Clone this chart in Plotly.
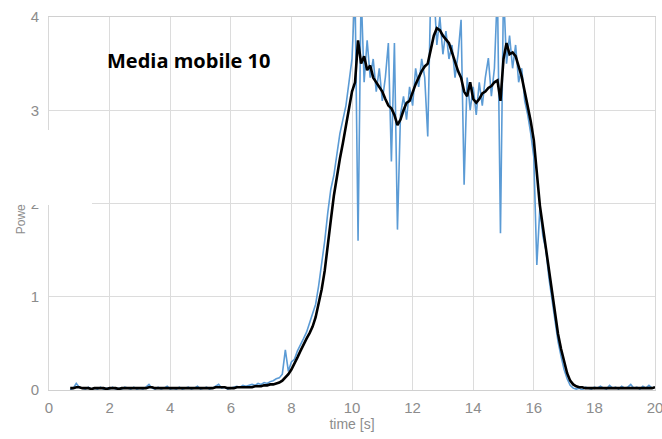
import plotly.graph_objects as go

# Sampled power (blue, raw) from t = 0.7 s to 20.0 s, every 0.1 s
power_raw = [
    0.00, 0.02, 0.07, 0.03, 0.02, 0.01, 0.03, 0.01, 0.02, 0.01,   # 0.7 - 1.6
    0.03, 0.01, 0.02, 0.01, 0.03, 0.01, 0.02, 0.01, 0.03, 0.02,   # 1.7 - 2.6
    0.01, 0.03, 0.01, 0.02, 0.01, 0.03, 0.06, 0.02, 0.01, 0.03,   # 2.7 - 3.6
    0.01, 0.02, 0.04, 0.01, 0.02, 0.01, 0.03, 0.01, 0.02, 0.03,   # 3.7 - 4.6
    0.01, 0.02, 0.04, 0.01, 0.02, 0.03, 0.01, 0.02, 0.04, 0.06,   # 4.7 - 5.6
    0.02, 0.03, 0.01, 0.02, 0.03, 0.04, 0.03, 0.05, 0.04, 0.05,   # 5.7 - 6.6
    0.06, 0.05, 0.07, 0.06, 0.08, 0.07, 0.09, 0.10, 0.12, 0.13,   # 6.7 - 7.6
    0.17, 0.43, 0.20, 0.30, 0.33, 0.42, 0.48, 0.55, 0.62, 0.72,   # 7.7 - 8.6
    0.80, 0.92, 1.12, 1.35, 1.60, 1.90, 2.15, 2.30, 2.55, 2.75,   # 8.7 - 9.6
    2.90, 3.05, 3.30, 3.55, 4.30, 1.60, 4.30, 3.30, 3.75, 3.35,   # 9.7 - 10.6
    3.55, 3.20, 3.45, 3.10, 3.35, 3.72, 2.45, 3.72, 1.72, 2.95,   # 10.7 - 11.6
    3.15, 2.90, 3.25, 3.05, 3.45, 3.25, 3.55, 3.35, 2.72, 4.30,   # 11.7 - 12.6
    4.30, 3.70, 4.00, 3.60, 3.85, 3.55, 3.70, 3.35, 3.60, 3.97,   # 12.7 - 13.6
    2.20, 3.35, 3.00, 3.25, 2.95, 3.30, 3.05, 3.35, 3.56, 3.15,   # 13.7 - 14.6
    3.45, 4.30, 1.68, 4.30, 3.50, 3.80, 3.45, 3.70, 3.30, 3.45,   # 14.7 - 15.6
    3.10, 2.95, 2.75, 2.50, 1.34, 1.95, 1.65, 1.50, 1.20, 0.98,   # 15.7 - 16.6
    0.75, 0.52, 0.36, 0.22, 0.12, 0.05, 0.02, 0.01, 0.02, 0.00,   # 16.7 - 17.6
    0.03, 0.02, 0.01, 0.03, 0.02, 0.04, 0.02, 0.01, 0.05, 0.02,   # 17.7 - 18.6
    0.03, 0.01, 0.04, 0.02, 0.03, 0.06, 0.02, 0.03, 0.01, 0.04,   # 18.7 - 19.6
    0.02, 0.05, 0.02, 0.03,                                       # 19.7 - 20.0
]

# Moving average (black), same sample times
power_avg = [
    0.02, 0.02, 0.03, 0.03, 0.02, 0.02, 0.02, 0.01, 0.02, 0.02,   # 0.7 - 1.6
    0.02, 0.02, 0.01, 0.02, 0.02, 0.02, 0.01, 0.02, 0.02, 0.02,   # 1.7 - 2.6
    0.02, 0.02, 0.02, 0.02, 0.02, 0.02, 0.03, 0.03, 0.02, 0.02,   # 2.7 - 3.6
    0.02, 0.02, 0.02, 0.02, 0.02, 0.02, 0.02, 0.02, 0.02, 0.02,   # 3.7 - 4.6
    0.02, 0.02, 0.02, 0.02, 0.02, 0.02, 0.02, 0.02, 0.03, 0.03,   # 4.7 - 5.6
    0.03, 0.03, 0.02, 0.02, 0.02, 0.03, 0.03, 0.03, 0.03, 0.03,   # 5.7 - 6.6
    0.03, 0.04, 0.04, 0.04, 0.05, 0.05, 0.06, 0.06, 0.07, 0.08,   # 6.7 - 7.6
    0.10, 0.13, 0.17, 0.22, 0.28, 0.35, 0.42, 0.49, 0.55, 0.61,   # 7.7 - 8.6
    0.68, 0.78, 0.92, 1.08, 1.28, 1.52, 1.82, 2.08, 2.30, 2.48,   # 8.7 - 9.6
    2.65, 2.85, 3.05, 3.20, 3.30, 3.75, 3.50, 3.58, 3.43, 3.48,   # 9.7 - 10.6
    3.35, 3.30, 3.25, 3.20, 3.12, 3.05, 3.02, 2.95, 2.84, 2.90,   # 10.7 - 11.6
    3.00, 3.08, 3.10, 3.20, 3.28, 3.35, 3.42, 3.47, 3.50, 3.65,   # 11.7 - 12.6
    3.80, 3.88, 3.86, 3.80, 3.76, 3.72, 3.62, 3.52, 3.42, 3.35,   # 12.7 - 13.6
    3.20, 3.15, 3.30, 3.12, 3.08, 3.12, 3.18, 3.20, 3.24, 3.26,   # 13.7 - 14.6
    3.30, 3.32, 3.10, 3.55, 3.72, 3.60, 3.62, 3.58, 3.48, 3.36,   # 14.7 - 15.6
    3.20, 3.05, 2.88, 2.68, 2.35, 1.98, 1.75, 1.52, 1.30, 1.03,   # 15.7 - 16.6
    0.82, 0.60, 0.44, 0.30, 0.18, 0.10, 0.06, 0.04, 0.03, 0.03,   # 16.7 - 17.6
    0.02, 0.02, 0.02, 0.02, 0.02, 0.02, 0.02, 0.02, 0.02, 0.02,   # 17.7 - 18.6
    0.02, 0.02, 0.02, 0.02, 0.02, 0.02, 0.02, 0.02, 0.02, 0.02,   # 18.7 - 19.6
    0.02, 0.02, 0.02, 0.03,                                       # 19.7 - 20.0
]

time_s = [round(0.7 + 0.1 * i, 1) for i in range(len(power_raw))]

x_ticks = [0, 2, 4, 6, 8, 10, 12, 14, 16, 18, 20]
y_ticks = [0, 1, 2, 3, 4]

title_text = "Media mobile 10"
x_title = "time [s]"
y_title_visible = "Powe"

fig = go.Figure()
fig.add_trace(go.Scatter(x=time_s, y=power_raw, mode="lines",
                         line=dict(color="#5b9bd5", width=1.6), showlegend=False))
fig.add_trace(go.Scatter(x=time_s, y=power_avg, mode="lines",
                         line=dict(color="#000000", width=2.6), showlegend=False))

tick_font = dict(family="Liberation Sans, Arial, sans-serif", size=15, color="#8c8c8c")

fig.update_layout(
    width=662, height=439,
    margin=dict(l=49, r=7, t=17, b=49, autoexpand=False),
    paper_bgcolor="white", plot_bgcolor="white",
    xaxis=dict(range=[0, 20], tickvals=x_ticks, showgrid=True, gridcolor="#dcdcdc",
               gridwidth=1, zeroline=False, showline=True, linecolor="#d0d0d0",
               mirror=True, ticks="", tickfont=tick_font, ticklabelstandoff=4,
               ticklabeloverflow="allow", automargin=False,
               title=dict(text=x_title, font=dict(family="Liberation Sans, Arial, sans-serif",
                                                  size=14, color="#8c8c8c"), standoff=3)),
    yaxis=dict(range=[0, 4], tickvals=y_ticks, showgrid=True, gridcolor="#dcdcdc",
               gridwidth=1, zeroline=False, showline=True, linecolor="#d8d8d8",
               mirror=True, ticks="", tickfont=tick_font, ticklabelstandoff=6,
               ticklabeloverflow="allow", automargin=False),
    shapes=[dict(type="rect", xref="paper", yref="paper",
                 x0=-0.09, x1=0.071, y0=0.496, y1=0.697,
                 fillcolor="white", line=dict(width=0), layer="above")],
    annotations=[
        dict(text="<b>" + title_text + "</b>", xref="paper", yref="paper",
             x=0.092, y=0.883, xanchor="left", yanchor="middle", showarrow=False,
             font=dict(family="Open Sans, Liberation Sans, sans-serif", size=20, color="#000000")),
        dict(text=y_title_visible, xref="paper", yref="paper", textangle=-90,
             x=-0.046, y=0.458, xanchor="center", yanchor="middle", showarrow=False,
             font=dict(family="Liberation Sans, Arial, sans-serif", size=12, color="#8c8c8c")),
    ],
)

# remove the default 8 px page margin so the figure fills the window exactly
fig.write_html("out.html", config={"displayModeBar": False},
               post_script="document.body.style.margin='0px';document.body.style.overflow='hidden';")
